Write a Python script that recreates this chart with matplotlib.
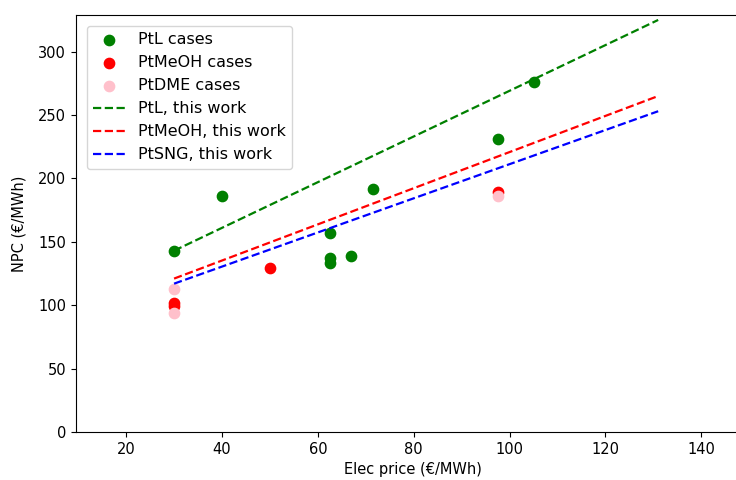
import numpy as np
from matplotlib import pyplot as plt

# scatter data (elec price, NPC)
ptl_x = [30, 40, 62.5, 62.5, 62.5, 67, 71.5, 97.5, 105]
ptl_y = [143, 186, 157, 137, 133, 139, 192, 231, 276]
meoh_x = [30, 30, 50, 97.5]
meoh_y = [102, 99, 129, 189]
dme_x = [30, 30, 97.5]
dme_y = [113, 94, 186]

# "this work" lines
line_x = [30, 131]
ptl_line = [143, 325]
meoh_line = [121, 265]
sng_line = [117, 253]

fig = plt.figure(figsize=(7.36, 4.8), dpi=100)
ax = fig.add_axes([0.103, 0.1, 0.915, 0.869])

ax.scatter(ptl_x, ptl_y, color='green', s=55, label='PtL cases')
ax.scatter(meoh_x, meoh_y, color='red', s=55, label='PtMeOH cases')
ax.scatter(dme_x, dme_y, color='pink', s=55, label='PtDME cases')
ax.plot(line_x, ptl_line, '--', color='green', lw=1.6, label='PtL, this work')
ax.plot(line_x, meoh_line, '--', color='red', lw=1.6, label='PtMeOH, this work')
ax.plot(line_x, sng_line, '--', color='blue', lw=1.6, label='PtSNG, this work')

ax.set_xlim(9.5, 150)
ax.set_ylim(0, 329)
ax.set_xticks([20, 40, 60, 80, 100, 120, 140])
ax.tick_params(labelsize=10.5)
ax.set_xlabel('Elec price (€/MWh)', fontsize=10.5)
ax.set_ylabel('NPC (€/MWh)', fontsize=10.5, labelpad=8)
ax.legend(loc='upper left', fontsize=11.5, borderaxespad=0.7)

fig.savefig('out.png', dpi=100)
